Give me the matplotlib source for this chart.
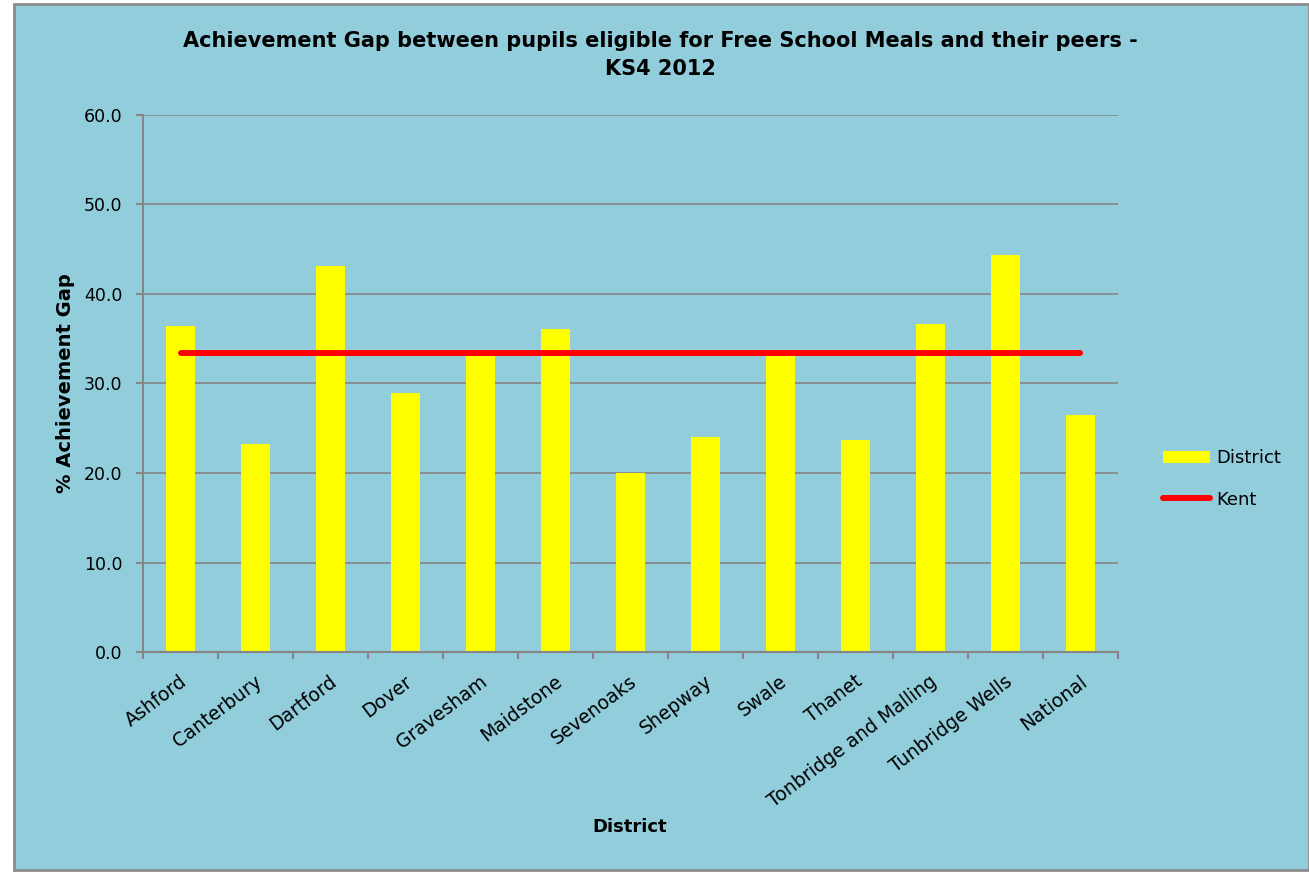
import matplotlib.pyplot as plt
from matplotlib.patches import Rectangle

# data
districts = ['Ashford', 'Canterbury', 'Dartford', 'Dover', 'Gravesham', 'Maidstone',
             'Sevenoaks', 'Shepway', 'Swale', 'Thanet', 'Tonbridge and Malling',
             'Tunbridge Wells', 'National']
district_gap = [36.4, 23.2, 43.1, 28.9, 33.5, 36.1, 20.0, 24.0, 33.4, 23.7, 36.6, 44.4, 26.5]
kent_gap = [33.4] * len(districts)

bg = '#92CDDC'
grid_col = '#868686'

fig = plt.figure(figsize=(13.09, 8.72), dpi=100)
fig.patch.set_facecolor('white')
# chart area with grey frame
fig.patches.append(Rectangle((14 / 1309, 1 - 870 / 872), (1309 - 14) / 1309, (870 - 4) / 872,
                             transform=fig.transFigure, facecolor=bg, edgecolor='#8C8C8C',
                             linewidth=2, zorder=-10))

ax = fig.add_axes([143 / 1309, 1 - 652 / 872, (1118 - 143) / 1309, (652 - 115) / 872])
ax.set_facecolor('none')

x = range(len(districts))
bars = ax.bar(x, district_gap, width=0.39, color='#FFFF00', label='District', zorder=2)
line, = ax.plot(x, kent_gap, color='#FF0000', linewidth=4.3, solid_capstyle='round',
                label='Kent', zorder=3)

ax.set_xlim(-0.5, len(districts) - 0.5)
ax.set_ylim(0, 60)
ax.set_yticks(range(0, 61, 10))
ax.set_yticklabels([f'{v:.1f}' for v in range(0, 61, 10)], fontsize=12.5)
ax.yaxis.grid(True, color=grid_col, linewidth=1.2)
ax.set_axisbelow(True)

# category ticks at boundaries
ax.set_xticks([i - 0.5 for i in range(len(districts) + 1)])
ax.set_xticklabels([])
ax.tick_params(axis='x', length=5, color=grid_col, width=1.5)
ax.tick_params(axis='y', length=5, color=grid_col, width=1.5, direction='out', pad=10)
for i, name in enumerate(districts):
    ax.text(i - 0.02, -2.2, name, rotation=37, ha='right', va='top', fontsize=13.5,
            rotation_mode='anchor')

for s in ['top', 'right']:
    ax.spines[s].set_visible(False)
for s in ['left', 'bottom']:
    ax.spines[s].set_color(grid_col)
    ax.spines[s].set_linewidth(1.5)

ax.set_ylabel('% Achievement Gap', fontsize=14, fontweight='bold', labelpad=6)
fig.text(630 / 1309, 1 - 827 / 872, 'District', ha='center', va='center',
         fontsize=13, fontweight='bold')
fig.text(660 / 1309, 1 - 55 / 872,
         'Achievement Gap between pupils eligible for Free School Meals and their peers -\nKS4 2012',
         ha='center', va='center', fontsize=15, fontweight='bold', linespacing=1.45)

leg = ax.legend([bars, line], ['District', 'Kent'], loc='center left',
                bbox_to_anchor=(1.03, 1 - (479 - 115) / (652 - 115)), frameon=False,
                fontsize=13, handlelength=2.6, handletextpad=0.3, labelspacing=1.3)

fig.savefig('out.png', dpi=100, facecolor=fig.get_facecolor())
